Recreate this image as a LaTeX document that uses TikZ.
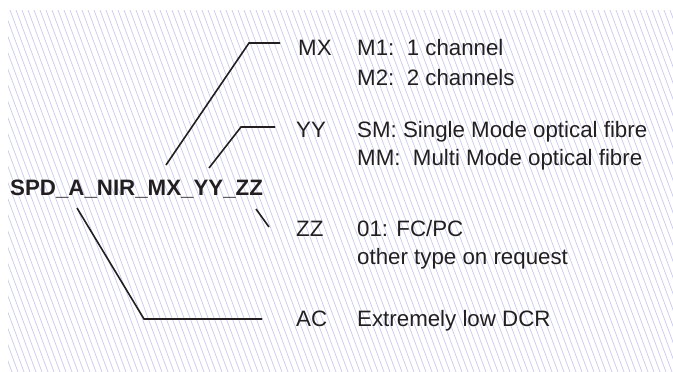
\documentclass[tikz,border=0pt]{standalone}
\usepackage{fontspec}
\setmainfont{Liberation Sans}
\usetikzlibrary{positioning}

\definecolor{ink}{RGB}{35,31,32}
\definecolor{hatch}{RGB}{202,205,238}

\begin{document}
\begin{tikzpicture}[x=1pt, y=-1pt,
    code/.style={anchor=base west, inner sep=0pt, text=ink, font=\fontsize{22.3}{26}\selectfont},
    desc/.style={anchor=base west, inner sep=0pt, text=ink, font=\fontsize{22.3}{26}\selectfont},
    pnum/.style={anchor=base west, inner sep=0pt, text=ink, font=\fontsize{22.3}{26}\selectfont\bfseries},
    ln/.style={draw=ink, line width=1.6pt}
]
\useasboundingbox (0,0) rectangle (673,372);

% hatched background
\begin{scope}
  \clip (8,10) rectangle (673,372);
  \foreach \i in {-140,-134,...,680}
    \draw[hatch, line width=0.75pt] (\i,10) -- ++(134,362);
\end{scope}

\node[pnum] (pn) at (10,195) {SPD\_A\_NIR\_MX\_YY\_ZZ};

\node[code] (mx) at (298,56) {MX};
\node[code] (yy) at (296,137) {YY};
\node[code] (zz) at (296,236) {ZZ};
\node[code] (ac) at (296,326) {AC};

\node[desc] (m1) at (357,56) {M1:~~1 channel};
\node[desc] (m2) at (357,85) {M2:~~2 channels};
\node[desc] (sm) at (357,137) {SM: Single Mode optical fibre};
\node[desc] (mm) at (357,165) {MM:~~Multi Mode optical fibre};
\node[desc] (fc) at (357,236) {01: FC/PC};
\node[desc] (oth) at (357,264) {other type on request};
\node[desc] (dcr) at (357,326) {Extremely low DCR};

\coordinate (mxa) at (166,165);
\coordinate (mxb) at (249,43);
\coordinate (mxc) at (280,43);
\coordinate (yya) at (209,168);
\coordinate (yyb) at (241,127);
\coordinate (yyc) at (275,127);
\coordinate (zza) at (256,209);
\coordinate (zzb) at (269,227);
\coordinate (aca) at (77,208);
\coordinate (acb) at (144,319);
\coordinate (acc) at (262,319);

\draw[ln] (mxa) -- (mxb) -- (mxc);
\draw[ln] (yya) -- (yyb) -- (yyc);
\draw[ln] (zza) -- (zzb);
\draw[ln] (aca) -- (acb) -- (acc);
\end{tikzpicture}
\end{document}
